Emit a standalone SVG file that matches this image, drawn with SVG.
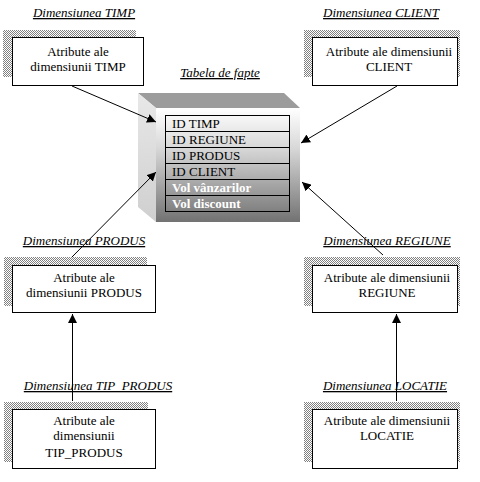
<svg xmlns="http://www.w3.org/2000/svg" width="480" height="482" viewBox="0 0 480 482">
<style>
.box{fill:#fff;stroke:#000;stroke-width:1}
.sh{fill:url(#dots)}
.t{font-family:"Liberation Serif","Times New Roman","DejaVu Serif",serif;font-size:13px;fill:#000}
.lbl{font-family:"Liberation Serif","Times New Roman","DejaVu Serif",serif;font-size:13px;font-style:italic;text-decoration:underline;fill:#000}
.tb{font-family:"Liberation Serif","Times New Roman","DejaVu Serif",serif;font-size:13px;font-weight:bold;fill:#fff}
.c{stroke:#000;stroke-width:1;fill:none;marker-end:url(#ah)}
.row{fill:none;stroke:#000;stroke-width:1}
</style>
<defs>
<pattern id="dots" width="2" height="2" patternUnits="userSpaceOnUse">
<rect width="2" height="2" fill="#fff"/>
<rect width="1" height="1" fill="#808080"/>
<rect x="1" y="1" width="1" height="1" fill="#808080"/>
</pattern>
<linearGradient id="front" x1="0" y1="0" x2="0" y2="1">
<stop offset="0" stop-color="#ffffff"/>
<stop offset="0.35" stop-color="#d8d8d8"/>
<stop offset="1" stop-color="#727272"/>
</linearGradient>
<linearGradient id="side" x1="0" y1="0" x2="0" y2="1">
<stop offset="0" stop-color="#e8e8e8"/>
<stop offset="1" stop-color="#cfcfcf"/>
</linearGradient>
<marker id="ah" viewBox="0 0 10 10" refX="10" refY="5" markerWidth="9" markerHeight="9" markerUnits="userSpaceOnUse" orient="auto">
<path d="M0,0 L10,5 L0,10 Z" fill="#000"/>
</marker>
</defs>

<g id="fact">
<polygon points="138,93 284,93 300,108 156,108" fill="#9c9c9c"/>
<polygon points="138,93 156,108 156,222 138,207" fill="url(#side)"/>
<rect x="156" y="108" width="144" height="114" fill="url(#front)"/>
<text class="lbl" x="220" y="77" text-anchor="middle">Tabela de fapte</text>
<rect class="row" x="165.5" y="115.5" width="124" height="96"/>
<line class="row" x1="165" y1="131.5" x2="290" y2="131.5"/>
<line class="row" x1="165" y1="147.5" x2="290" y2="147.5"/>
<line class="row" x1="165" y1="163.5" x2="290" y2="163.5"/>
<line class="row" x1="165" y1="179.5" x2="290" y2="179.5"/>
<line class="row" x1="165" y1="195.5" x2="290" y2="195.5"/>
<text class="t" x="172" y="128">ID TIMP</text>
<text class="t" x="172" y="144">ID REGIUNE</text>
<text class="t" x="172" y="160">ID PRODUS</text>
<text class="t" x="172" y="176">ID CLIENT</text>
<text class="tb" x="172" y="192">Vol vânzarilor</text>
<text class="tb" x="172" y="208">Vol discount</text>
</g>

<g id="timp">
<text class="lbl" x="84" y="17" text-anchor="middle">Dimensiunea TIMP</text>
<rect class="sh" x="3" y="30" width="133" height="47"/>
<rect class="box" x="12.5" y="37.5" width="131" height="48"/>
<text class="t" x="78" y="56" text-anchor="middle">Atribute ale</text>
<text class="t" x="78" y="71" text-anchor="middle">dimensiunii TIMP</text>
</g>

<g id="client">
<text class="lbl" x="381" y="17" text-anchor="middle">Dimensiunea CLIENT</text>
<rect class="sh" x="304" y="30" width="156" height="47"/>
<rect class="box" x="312.5" y="37.5" width="145" height="48"/>
<text class="t" x="389" y="56" text-anchor="middle">Atribute ale dimensiunii</text>
<text class="t" x="389" y="71" text-anchor="middle">CLIENT</text>
</g>

<g id="produs">
<text class="lbl" x="84" y="245" text-anchor="middle">Dimensiunea PRODUS</text>
<rect class="sh" x="4" y="257" width="143" height="49"/>
<rect class="box" x="12.5" y="265.5" width="143" height="47"/>
<text class="t" x="84" y="282" text-anchor="middle">Atribute ale</text>
<text class="t" x="84" y="297" text-anchor="middle">dimensiunii PRODUS</text>
</g>

<g id="regiune">
<text class="lbl" x="387" y="245" text-anchor="middle">Dimensiunea REGIUNE</text>
<rect class="sh" x="304" y="257" width="156" height="49"/>
<rect class="box" x="312.5" y="265.5" width="145" height="47"/>
<text class="t" x="387" y="282" text-anchor="middle">Atribute ale dimensiunii</text>
<text class="t" x="387" y="297" text-anchor="middle">REGIUNE</text>
</g>

<g id="tip_produs">
<text class="lbl" x="98" y="390" text-anchor="middle">Dimensiunea TIP_PRODUS</text>
<rect class="sh" x="4" y="402" width="144" height="60"/>
<rect class="box" x="12.5" y="409.5" width="143" height="59"/>
<text class="t" x="84" y="425" text-anchor="middle">Atribute ale</text>
<text class="t" x="84" y="440" text-anchor="middle">dimensiunii</text>
<text class="t" x="84" y="457" text-anchor="middle">TIP_PRODUS</text>
</g>

<g id="locatie">
<text class="lbl" x="385" y="390" text-anchor="middle">Dimensiunea LOCATIE</text>
<rect class="sh" x="304" y="402" width="156" height="60"/>
<rect class="box" x="312.5" y="409.5" width="145" height="59"/>
<text class="t" x="387" y="425" text-anchor="middle">Atribute ale dimensiunii</text>
<text class="t" x="387" y="440" text-anchor="middle">LOCATIE</text>
</g>

<g id="connectors">
<line class="c" x1="72" y1="86" x2="156" y2="122"/>
<line class="c" x1="397" y1="86" x2="301" y2="143"/>
<line class="c" x1="72" y1="257" x2="156" y2="172"/>
<line class="c" x1="383" y1="255" x2="302" y2="182"/>
<line class="c" x1="72.5" y1="401" x2="72.5" y2="314"/>
<line class="c" x1="396.5" y1="401" x2="396.5" y2="314"/>
</g>
</svg>
